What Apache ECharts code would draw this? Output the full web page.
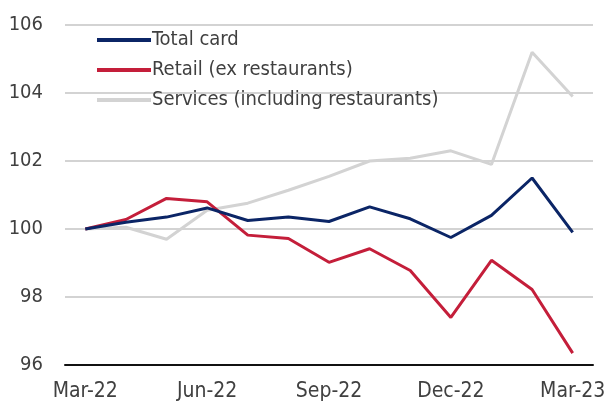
<!DOCTYPE html>
<html>
<head>
<meta charset="utf-8">
<script src="https://cdn.jsdelivr.net/npm/echarts@6/dist/echarts.min.js"></script>
<style>
  html, body { margin: 0; padding: 0; background: #fff; }
  #chart { width: 605px; height: 403px; }
</style>
</head>
<body>
<div id="chart"></div>
<script>
// Monthly card spending indices (Mar-22 = 100)
const months = ['Mar-22','Apr-22','May-22','Jun-22','Jul-22','Aug-22','Sep-22','Oct-22','Nov-22','Dec-22','Jan-23','Feb-23','Mar-23'];
const totalCard = [100, 100.2, 100.35, 100.62, 100.25, 100.35, 100.22, 100.65, 100.3, 99.75, 100.4, 101.5, 99.9];
const retail = [100, 100.28, 100.9, 100.8, 99.82, 99.72, 99.02, 99.42, 98.78, 97.4, 99.08, 98.22, 96.35];
const services = [100, 100.05, 99.7, 100.55, 100.76, 101.14, 101.55, 102.0, 102.08, 102.3, 101.9, 105.2, 103.9];
const seriesNames = ['Total card', 'Retail (ex restaurants)', 'Services (including restaurants)'];
const seriesColors = ['#0b2566', '#c41e3a', '#d3d3d3'];

const FONT = "'Liberation Sans Narrow', 'DejaVu Sans Condensed', 'Open Sans', sans-serif";

const chart = echarts.init(document.getElementById('chart'), null, { renderer: 'canvas' });

const values = [totalCard, retail, services];

chart.setOption({
  animation: false,
  backgroundColor: '#ffffff',
  grid: { left: 65, right: 12, top: 25, bottom: 38, containLabel: false, outerBoundsMode: 'none' },
  legend: {
    orient: 'vertical',
    left: 97,
    top: 30,
    padding: 0,
    itemWidth: 54,
    itemHeight: 4,
    itemGap: 10,
    icon: 'rect',
    textStyle: { fontFamily: FONT, fontSize: 20, color: '#404040', padding: [0, 0, 0, -4] },
    data: seriesNames
  },
  xAxis: {
    type: 'category',
    data: months,
    boundaryGap: true,
    axisLine: { lineStyle: { color: '#111', width: 2 } },
    axisTick: { show: false },
    axisLabel: {
      interval: 2,
      fontFamily: FONT,
      fontSize: 21,
      color: '#404040',
      margin: 16
    },
    splitLine: { show: false }
  },
  yAxis: {
    type: 'value',
    min: 96,
    max: 106,
    interval: 2,
    axisLine: { show: false },
    axisTick: { show: false },
    axisLabel: {
      fontFamily: FONT,
      fontSize: 20,
      color: '#404040',
      margin: 22
    },
    splitLine: { lineStyle: { color: '#c4c4c4', width: 1.6 } }
  },
  series: seriesNames.map((name, i) => ({
    name,
    type: 'line',
    data: values[i],
    showSymbol: false,
    smooth: false,
    z: 3 - i,
    lineStyle: { color: seriesColors[i], width: 3 },
    itemStyle: { color: seriesColors[i] }
  }))
});
</script>
</body>
</html>
